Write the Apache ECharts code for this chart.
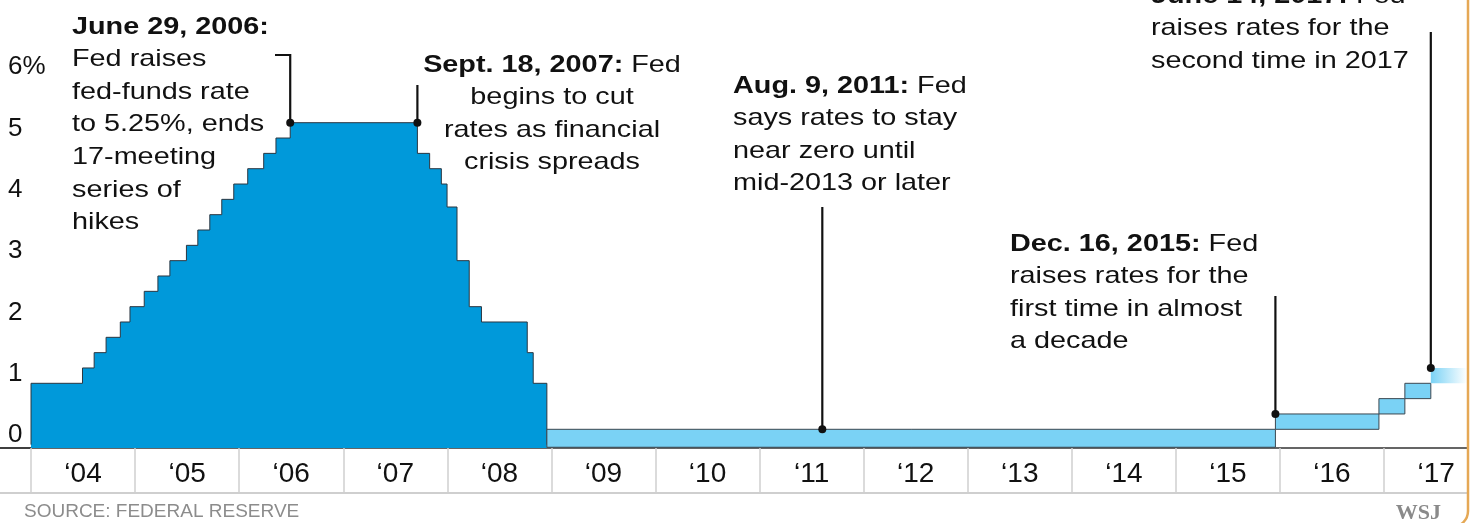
<!DOCTYPE html>
<html>
<head>
<meta charset="utf-8">
<script src="https://cdn.jsdelivr.net/npm/echarts@6/dist/echarts.min.js"></script>
<style>
html,body{margin:0;padding:0;background:#fff;overflow:hidden;}
#c{width:1471px;height:523px;}
</style>
</head>
<body>
<div id="c"></div>
<script>
// ---------------- DATA ----------------
// Fed-funds target rate as drawn, 2004-2008 (date of change, new level %)
const hikeDates = ['2004-01-01','2004-06-30','2004-08-10','2004-09-21','2004-11-10','2004-12-14',
  '2005-02-02','2005-03-22','2005-05-03','2005-06-30','2005-08-09','2005-09-20','2005-11-01','2005-12-13',
  '2006-01-31','2006-03-28','2006-05-10','2006-06-29',
  '2007-09-18','2007-10-31','2007-12-11','2007-12-31',
  '2008-02-04','2008-03-18','2008-04-30','2008-10-08','2008-10-29','2008-12-16'];
const hikeRates = [1.00,1.25,1.50,1.75,2.00,2.25,
  2.50,2.75,3.00,3.25,3.50,3.75,4.00,4.25,
  4.50,4.75,5.00,5.25,
  4.75,4.50,4.25,3.875,
  3.00,2.25,2.00,1.50,1.00,0];

// Target ranges after Dec. 2008 (start, end, low %, high %); null end = still in force
const rangeStarts = ['2008-12-16','2015-12-16','2016-12-14','2017-03-15','2017-06-14'];
const rangeEnds   = ['2015-12-16','2016-12-14','2017-03-15','2017-06-14', null];
const rangeLows   = [0, 0.25, 0.50, 0.75, 1.00];
const rangeHighs  = [0.25, 0.50, 0.75, 1.00, 1.25];

// Axis labels
const yearValues = [2004,2005,2006,2007,2008,2009,2010,2011,2012,2013,2014,2015,2016,2017];
const yearLabels = ['\u201804','\u201805','\u201806','\u201807','\u201808','\u201809','\u201810',
  '\u201811','\u201812','\u201813','\u201814','\u201815','\u201816','\u201817'];
const yTickValues = [0,1,2,3,4,5,6];
const yTickLabels = ['0','1','2','3','4','5','6%'];

// Annotations
const noteDates = ['2006-06-29','2007-09-18','2011-08-09','2015-12-16','2017-06-14'];
const noteRates = [5.25, 5.25, 0.25, 0.50, 1.25];
const noteHeads = ['June 29, 2006:','Sept. 18, 2007:','Aug. 9, 2011:','Dec. 16, 2015:','June 14, 2017:'];
const noteBodies = [
  ['', 'Fed raises', 'fed-funds rate', 'to 5.25%, ends', '17-meeting', 'series of', 'hikes'],
  [' Fed', 'begins to cut', 'rates as financial', 'crisis spreads'],
  [' Fed', 'says rates to stay', 'near zero until', 'mid-2013 or later'],
  [' Fed', 'raises rates for the', 'first time in almost', 'a decade'],
  [' Fed', 'raises rates for the', 'second time in 2017']
];
const sourceText = 'SOURCE: FEDERAL RESERVE';
const creditText = 'WSJ';

// ---------------- LAYOUT / STYLE ----------------
const X_MIN = 2003.702, X_MAX = 2017.797;   // visible window (years)
const Y_MIN = -0.055, Y_MAX = 7.251;
const LH = 32.6;
const TEXT_FONT = "'Liberation Sans', Arial, Helvetica, sans-serif";
const noteLayout = [
  {x: 72,   yc: 27,  align: 'left',   top: 55,  elbowX: 275},
  {x: 552,  yc: 65,  align: 'center', top: 85},
  {x: 733,  yc: 86,  align: 'left',   top: 207},
  {x: 1010, yc: 244, align: 'left',   top: 296},
  {x: 1151, yc: -4,  align: 'left',   top: 32}
];
const TEXT_SCALE_X = 1.2;

function decYear(s) {
  const p = s.split('-').map(Number);
  const a = Date.UTC(p[0], 0, 1), b = Date.UTC(p[0] + 1, 0, 1);
  return p[0] + (Date.UTC(p[0], p[1] - 1, p[2]) - a) / (b - a);
}

const areaData = [[decYear(hikeDates[0]), 0]].concat(hikeDates.map((d, i) => [decYear(d), hikeRates[i]]));
const rangeData = rangeStarts.map((d, i) => [decYear(d), rangeEnds[i] ? decYear(rangeEnds[i]) : X_MAX, rangeLows[i], rangeHighs[i], rangeEnds[i] ? 0 : 1]);
const noteData = noteDates.map((d, i) => [decYear(d), noteRates[i], i]);

const chart = echarts.init(document.getElementById('c'), null, {renderer: 'canvas'});

function buildRich(i) {
  const body = noteBodies[i];
  let s = '{b|' + noteHeads[i] + '}' + (body[0] ? '{r|' + body[0] + '}' : '');
  for (let k = 1; k < body.length; k++) s += '\n{r|' + body[k] + '}';
  return s;
}

const option = {
  animation: false,
  backgroundColor: '#ffffff',
  grid: {left: 0, right: 4, top: 0, bottom: 75},
  xAxis: [{
    type: 'value', min: X_MIN, max: X_MAX,
    axisLine: {show: true, onZero: false, lineStyle: {color: '#333', width: 1.5}},
    axisTick: {show: true, customValues: yearValues, length: 45, lineStyle: {color: '#cfcfcf', width: 1.5}},
    axisLabel: {
      customValues: yearValues.map(v => v + 0.5),
      formatter: v => yearLabels[Math.round(v - 0.5) - yearValues[0]],
      fontFamily: TEXT_FONT, fontSize: 28, color: '#111',
      verticalAlign: 'middle', margin: 26
    },
    splitLine: {show: false}
  }, {
    type: 'value', min: X_MIN, max: X_MAX, position: 'bottom', offset: 45,
    axisLine: {show: true, onZero: false, lineStyle: {color: '#cfcfcf', width: 2}},
    axisTick: {show: false}, axisLabel: {show: false}, splitLine: {show: false}
  }],
  yAxis: {
    type: 'value', min: Y_MIN, max: Y_MAX,
    axisLine: {show: false}, axisTick: {show: false}, splitLine: {show: false},
    axisLabel: {
      inside: true, margin: 8, customValues: yTickValues,
      formatter: v => yTickLabels[yTickValues.indexOf(Math.round(v))],
      fontFamily: TEXT_FONT, fontSize: 26, color: '#111',
      verticalAlign: 'bottom', lineHeight: 19
    }
  },
  series: [{
    type: 'line', step: 'end', data: areaData, symbol: 'none', z: 2,
    lineStyle: {color: '#2b3640', width: 1},
    areaStyle: {color: '#0099DA', opacity: 1, origin: 'start'}
  }, {
    type: 'custom', z: 3, data: rangeData,
    renderItem: function (params, api) {
      const cs = params.coordSys;
      const p0 = api.coord([api.value(0), api.value(3)]);
      const p1 = api.coord([api.value(1), api.value(2)]);
      const bottom = api.value(2) <= 0 ? cs.y + cs.height - 0.75 : p1[1];
      const fade = api.value(4) === 1;
      return {
        type: 'rect',
        shape: {x: p0[0], y: p0[1], width: p1[0] - p0[0], height: bottom - p0[1]},
        style: fade ? {
          fill: {type: 'linear', x: 0, y: 0, x2: 1, y2: 0,
            colorStops: [{offset: 0, color: '#7AD2F5'}, {offset: 1, color: '#ffffff'}]},
          stroke: null
        } : {fill: '#7AD2F5', stroke: '#3b4750', lineWidth: 1}
      };
    }
  }, {
    type: 'custom', z: 5, data: noteData, clip: false,
    renderItem: function (params, api) {
      const i = params.dataIndex;
      const L = noteLayout[i];
      const p = api.coord([api.value(0), api.value(1)]);
      const pts = L.elbowX != null ? [[p[0], p[1]], [p[0], L.top], [L.elbowX, L.top]] : [[p[0], L.top], [p[0], p[1]]];
      return {
        type: 'group',
        children: [{
          type: 'polyline', shape: {points: pts},
          style: {stroke: '#111', lineWidth: 2.2, fill: null}
        }, {
          type: 'circle', shape: {cx: p[0], cy: p[1], r: 4},
          style: {fill: '#111'}
        }, {
          type: 'text', x: L.x, y: L.yc - LH / 2, scaleX: TEXT_SCALE_X,
          style: {
            text: buildRich(i), align: L.align, verticalAlign: 'top',
            fill: '#111', fontFamily: TEXT_FONT, fontSize: 24, lineHeight: LH,
            rich: {
              b: {fontFamily: TEXT_FONT, fontSize: 24, fontWeight: 'bold', lineHeight: LH, fill: '#111'},
              r: {fontFamily: TEXT_FONT, fontSize: 24, fontWeight: 'normal', lineHeight: LH, fill: '#111'}
            }
          }
        }]
      };
    }
  }],
  graphic: [{
    type: 'line', shape: {x1: 0, y1: 448, x2: 31, y2: 448},
    style: {stroke: '#333', lineWidth: 1.5}, silent: true
  }, {
    type: 'text', left: 24, top: 502,
    style: {text: sourceText, fontFamily: TEXT_FONT, fontSize: 19, fill: '#8c8c8c'}
  }, {
    type: 'text', right: 30, top: 502,
    style: {text: creditText, fontFamily: "'Liberation Serif', 'DejaVu Serif', serif", fontWeight: 'bold', fontSize: 22, fill: '#8a8a8a'}
  }, {
    type: 'rect', shape: {x: -20, y: -30, width: 1488, height: 557, r: 16},
    style: {fill: null, stroke: '#E5A855', lineWidth: 2.5}, silent: true, z: 100
  }]
};
chart.setOption(option);
</script>
</body>
</html>
